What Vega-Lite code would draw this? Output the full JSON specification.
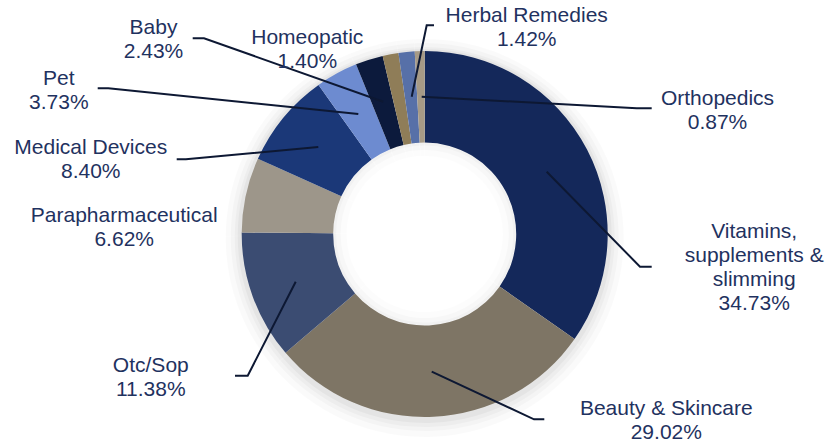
{
  "$schema": "https://vega.github.io/schema/vega-lite/v6.json",
  "width": 827,
  "height": 444,
  "autosize": "none",
  "padding": 0,
  "background": "white",
  "config": {"view": {"stroke": null}},
  "datasets": {
    "slices": [
      {"category": "Vitamins, supplements & slimming", "share": 34.73, "order": 1},
      {"category": "Beauty & Skincare", "share": 29.02, "order": 2},
      {"category": "Otc/Sop", "share": 11.38, "order": 3},
      {"category": "Parapharmaceutical", "share": 6.62, "order": 4},
      {"category": "Medical Devices", "share": 8.40, "order": 5},
      {"category": "Pet", "share": 3.73, "order": 6},
      {"category": "Baby", "share": 2.43, "order": 7},
      {"category": "Homeopatic", "share": 1.40, "order": 8},
      {"category": "Herbal Remedies", "share": 1.42, "order": 9},
      {"category": "Orthopedics", "share": 0.87, "order": 10}
    ],
    "labels": [
      {"category": "Vitamins, supplements & slimming", "label": "Vitamins,\nsupplements &\nslimming\n34.73%", "x": 1.8005, "y": -0.0235},
      {"category": "Beauty & Skincare", "label": "Beauty & Skincare\n29.02%", "x": 1.3202, "y": -0.9891},
      {"category": "Otc/Sop", "label": "Otc/Sop\n11.38%", "x": -1.4967, "y": -0.7525},
      {"category": "Parapharmaceutical", "label": "Parapharmaceutical\n6.62%", "x": -1.6421, "y": 0.0672},
      {"category": "Medical Devices", "label": "Medical Devices\n8.40%", "x": -1.8251, "y": 0.4355},
      {"category": "Pet", "label": "Pet\n3.73%", "x": -1.9995, "y": 0.8142},
      {"category": "Baby", "label": "Baby\n2.43%", "x": -1.482, "y": 1.0913},
      {"category": "Homeopatic", "label": "Homeopatic\n1.40%", "x": -0.6415, "y": 1.0366},
      {"category": "Herbal Remedies", "label": "Herbal Remedies\n1.42%", "x": 0.5574, "y": 1.1601},
      {"category": "Orthopedics", "label": "Orthopedics\n0.87%", "x": 1.6, "y": 0.7049}
    ],
    "leaders": [
      {"category": "Herbal Remedies", "pt": 1, "x": 0.0508, "y": 1.1404},
      {"category": "Herbal Remedies", "pt": 2, "x": 0.0109, "y": 1.1404},
      {"category": "Herbal Remedies", "pt": 3, "x": -0.0711, "y": 0.7503},
      {"category": "Baby", "pt": 1, "x": -1.2678, "y": 1.0694},
      {"category": "Baby", "pt": 2, "x": -1.206, "y": 1.0694},
      {"category": "Baby", "pt": 3, "x": -0.2262, "y": 0.723},
      {"category": "Pet", "pt": 1, "x": -1.7869, "y": 0.7962},
      {"category": "Pet", "pt": 2, "x": -1.729, "y": 0.7962},
      {"category": "Pet", "pt": 3, "x": -0.3628, "y": 0.6557},
      {"category": "Medical Devices", "pt": 1, "x": -1.3552, "y": 0.4082},
      {"category": "Medical Devices", "pt": 2, "x": -1.305, "y": 0.4082},
      {"category": "Medical Devices", "pt": 3, "x": -0.5814, "y": 0.4754},
      {"category": "Otc/Sop", "pt": 1, "x": -1.0366, "y": -0.7743},
      {"category": "Otc/Sop", "pt": 2, "x": -0.9672, "y": -0.7743},
      {"category": "Otc/Sop", "pt": 3, "x": -0.7049, "y": -0.2607},
      {"category": "Beauty & Skincare", "pt": 1, "x": 0.0383, "y": -0.7525},
      {"category": "Beauty & Skincare", "pt": 2, "x": 0.5973, "y": -1.0126},
      {"category": "Beauty & Skincare", "pt": 3, "x": 0.6536, "y": -1.0126},
      {"category": "Vitamins, supplements & slimming", "pt": 1, "x": 0.6667, "y": 0.3404},
      {"category": "Vitamins, supplements & slimming", "pt": 2, "x": 1.1765, "y": -0.1787},
      {"category": "Vitamins, supplements & slimming", "pt": 3, "x": 1.2404, "y": -0.1787},
      {"category": "Orthopedics", "pt": 1, "x": -0.0164, "y": 0.7503},
      {"category": "Orthopedics", "pt": 2, "x": 1.1585, "y": 0.6869},
      {"category": "Orthopedics", "pt": 3, "x": 1.2404, "y": 0.6869}
    ]
  },
  "layer": [
    {
      "data": {"name": "slices"},
      "mark": {"type": "arc", "innerRadius": 172, "outerRadius": 199, "color": "#000000", "opacity": 0.018, "yOffset": 4},
      "encoding": {
        "x": {"datum": 0, "type": "quantitative", "scale": {"domain": [-2.3208, 2.1984], "nice": false, "zero": false}, "axis": null},
        "y": {"datum": 0, "type": "quantitative", "scale": {"domain": [-1.1475, 1.2787], "nice": false, "zero": false}, "axis": null},
        "theta": {"field": "share", "type": "quantitative", "stack": true},
        "order": {"field": "order", "type": "quantitative"}
      }
    },
    {
      "data": {"name": "slices"},
      "mark": {"type": "arc", "innerRadius": 172, "outerRadius": 194, "color": "#000000", "opacity": 0.022, "yOffset": 3},
      "encoding": {
        "x": {"datum": 0, "type": "quantitative", "scale": {"domain": [-2.3208, 2.1984], "nice": false, "zero": false}, "axis": null},
        "y": {"datum": 0, "type": "quantitative", "scale": {"domain": [-1.1475, 1.2787], "nice": false, "zero": false}, "axis": null},
        "theta": {"field": "share", "type": "quantitative", "stack": true},
        "order": {"field": "order", "type": "quantitative"}
      }
    },
    {
      "data": {"name": "slices"},
      "mark": {"type": "arc", "innerRadius": 172, "outerRadius": 190, "color": "#000000", "opacity": 0.028, "yOffset": 3},
      "encoding": {
        "x": {"datum": 0, "type": "quantitative", "scale": {"domain": [-2.3208, 2.1984], "nice": false, "zero": false}, "axis": null},
        "y": {"datum": 0, "type": "quantitative", "scale": {"domain": [-1.1475, 1.2787], "nice": false, "zero": false}, "axis": null},
        "theta": {"field": "share", "type": "quantitative", "stack": true},
        "order": {"field": "order", "type": "quantitative"}
      }
    },
    {
      "data": {"name": "slices"},
      "mark": {"type": "arc", "innerRadius": 172, "outerRadius": 187, "color": "#000000", "opacity": 0.035, "yOffset": 2},
      "encoding": {
        "x": {"datum": 0, "type": "quantitative", "scale": {"domain": [-2.3208, 2.1984], "nice": false, "zero": false}, "axis": null},
        "y": {"datum": 0, "type": "quantitative", "scale": {"domain": [-1.1475, 1.2787], "nice": false, "zero": false}, "axis": null},
        "theta": {"field": "share", "type": "quantitative", "stack": true},
        "order": {"field": "order", "type": "quantitative"}
      }
    },
    {
      "data": {"name": "slices"},
      "mark": {"type": "arc", "innerRadius": 91.5, "outerRadius": 183},
      "encoding": {
        "x": {"datum": 0, "type": "quantitative", "scale": {"domain": [-2.3208, 2.1984], "nice": false, "zero": false}, "axis": null},
        "y": {"datum": 0, "type": "quantitative", "scale": {"domain": [-1.1475, 1.2787], "nice": false, "zero": false}, "axis": null},
        "theta": {"field": "share", "type": "quantitative", "stack": true},
        "order": {"field": "order", "type": "quantitative"},
        "color": {
          "field": "category", "type": "nominal", "legend": null,
          "scale": {
            "domain": ["Vitamins, supplements & slimming", "Beauty & Skincare", "Otc/Sop", "Parapharmaceutical", "Medical Devices", "Pet", "Baby", "Homeopatic", "Herbal Remedies", "Orthopedics"],
            "range": ["#14285a", "#7e7565", "#3b4c72", "#9d968a", "#1b3878", "#6d8bd0", "#0c1a3c", "#8f7d58", "#5770a8", "#a69a86"]
          }
        }
      }
    },
    {
      "data": {"name": "slices"},
      "mark": {"type": "arc", "innerRadius": 78, "outerRadius": 91.5, "color": "#000000", "opacity": 0.012},
      "encoding": {
        "x": {"datum": 0, "type": "quantitative", "scale": {"domain": [-2.3208, 2.1984], "nice": false, "zero": false}, "axis": null},
        "y": {"datum": 0, "type": "quantitative", "scale": {"domain": [-1.1475, 1.2787], "nice": false, "zero": false}, "axis": null},
        "theta": {"field": "share", "type": "quantitative", "stack": true},
        "order": {"field": "order", "type": "quantitative"}
      }
    },
    {
      "data": {"name": "slices"},
      "mark": {"type": "arc", "innerRadius": 84, "outerRadius": 91.5, "color": "#000000", "opacity": 0.018},
      "encoding": {
        "x": {"datum": 0, "type": "quantitative", "scale": {"domain": [-2.3208, 2.1984], "nice": false, "zero": false}, "axis": null},
        "y": {"datum": 0, "type": "quantitative", "scale": {"domain": [-1.1475, 1.2787], "nice": false, "zero": false}, "axis": null},
        "theta": {"field": "share", "type": "quantitative", "stack": true},
        "order": {"field": "order", "type": "quantitative"}
      }
    },
    {
      "data": {"name": "slices"},
      "mark": {"type": "arc", "innerRadius": 88.5, "outerRadius": 91.5, "color": "#000000", "opacity": 0.025},
      "encoding": {
        "x": {"datum": 0, "type": "quantitative", "scale": {"domain": [-2.3208, 2.1984], "nice": false, "zero": false}, "axis": null},
        "y": {"datum": 0, "type": "quantitative", "scale": {"domain": [-1.1475, 1.2787], "nice": false, "zero": false}, "axis": null},
        "theta": {"field": "share", "type": "quantitative", "stack": true},
        "order": {"field": "order", "type": "quantitative"}
      }
    },
    {
      "data": {"name": "leaders"},
      "mark": {"type": "line", "color": "#0d1833", "strokeWidth": 2},
      "encoding": {
        "x": {"field": "x", "type": "quantitative", "scale": {"domain": [-2.3208, 2.1984], "nice": false, "zero": false}, "axis": null},
        "y": {"field": "y", "type": "quantitative", "scale": {"domain": [-1.1475, 1.2787], "nice": false, "zero": false}, "axis": null},
        "detail": {"field": "category", "type": "nominal"},
        "order": {"field": "pt", "type": "quantitative"}
      }
    },
    {
      "data": {"name": "labels"},
      "mark": {"type": "text", "font": "Liberation Sans", "fontSize": 21, "lineHeight": 24, "lineBreak": "\n", "align": "center", "baseline": "alphabetic", "color": "#1f3260"},
      "encoding": {
        "x": {"field": "x", "type": "quantitative", "scale": {"domain": [-2.3208, 2.1984], "nice": false, "zero": false}, "axis": null},
        "y": {"field": "y", "type": "quantitative", "scale": {"domain": [-1.1475, 1.2787], "nice": false, "zero": false}, "axis": null},
        "text": {"field": "label", "type": "nominal"}
      }
    }
  ]
}
